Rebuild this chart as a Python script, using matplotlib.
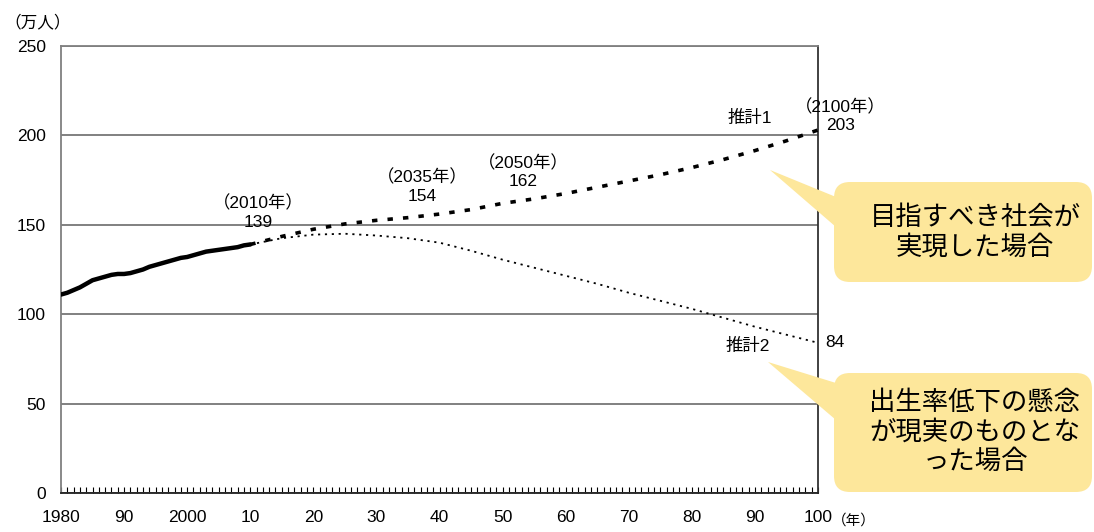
"""Population projection chart (万人), 1980-2100, two projection scenarios."""
import matplotlib
matplotlib.use("Agg")
import matplotlib.pyplot as plt
from matplotlib.patches import FancyBboxPatch, Polygon
from matplotlib.ticker import MultipleLocator, FixedLocator

plt.rcParams["font.family"] = ["Liberation Sans", "Noto Sans CJK JP", "DejaVu Sans"]

# historical series, yearly
hist_years = list(range(1980, 2011))
hist_values = [111, 112, 113.5, 115, 117, 119, 120, 121, 122, 122.5,
               122.5, 123, 124, 125, 126.5, 127.5, 128.5, 129.5, 130.5, 131.5,
               132, 133, 134, 135, 135.5, 136, 136.5, 137, 137.5, 138.5, 139]

# projections, every 5 years
proj_years = list(range(2010, 2101, 5))
proj1_values = [139, 143.5, 147.5, 150.5, 152.5, 154, 156, 158.5, 162, 164.5,
                167.5, 171, 174.5, 178, 182, 186.5, 191.5, 197, 203]
proj2_values = [139, 142.5, 144.5, 145, 144, 142.5, 140, 135.5, 130.5, 126,
                121.5, 117, 112, 107.5, 103, 98, 93, 88.5, 84]

x_ticks = [1980, 1990, 2000, 2010, 2020, 2030, 2040, 2050, 2060, 2070, 2080, 2090, 2100]
x_tick_labels = ["1980", "90", "2000", "10", "20", "30", "40", "50", "60", "70", "80", "90", "100"]
y_ticks = [0, 50, 100, 150, 200, 250]

# point labels: (year, value, text)
point_labels = [
    (2011.2, 157, "（2010年）\n139"),
    (2037.2, 171.5, "（2035年）\n154"),
    (2053.2, 179.5, "（2050年）\n162"),
    (2103.5, 211, "（2100年）\n203"),
]

FS = 12.5
W, H = 1094, 532
fig = plt.figure(figsize=(W / 100, H / 100), dpi=100)
left, right, top, bottom = 61, 818, 46, 493
ax = fig.add_axes([left / W, 1 - bottom / H, (right - left) / W, (bottom - top) / H])

ax.plot(hist_years, hist_values, color="black", lw=3.2, solid_capstyle="round", zorder=3)
ax.plot(proj_years, proj1_values, color="black", lw=2.6, linestyle=(0, (1.5, 2.8)), zorder=3)
ax.plot(proj_years, proj2_values, color="black", lw=1.3, linestyle=(0, (1.2, 2.6)), zorder=3)

ax.set_xlim(1980, 2100)
ax.set_ylim(0, 250)
ax.set_yticks(y_ticks)
ax.yaxis.grid(True, color="#808080", lw=1.4)
ax.set_axisbelow(True)
ax.tick_params(axis="y", length=0, pad=11, labelsize=FS)

ax.xaxis.set_major_locator(FixedLocator(x_ticks))
ax.set_xticklabels(x_tick_labels)
ax.xaxis.set_minor_locator(MultipleLocator(1))
ax.tick_params(axis="x", which="both", direction="in", length=4, width=0.8,
               pad=12, labelsize=FS)

for side, c in [("left", "#808080"), ("top", "#808080"), ("right", "#333333"), ("bottom", "#222222")]:
    ax.spines[side].set_color(c)
    ax.spines[side].set_linewidth(1.3)

for yr, val, txt in point_labels:
    ax.text(yr, val, txt, ha="center", va="center", fontsize=FS,
            linespacing=1.25, clip_on=False)

ax.text(2089.2, 210, "推計1", ha="center", va="center", fontsize=FS)
ax.text(2088.9, 82, "推計2", ha="center", va="center", fontsize=FS)
ax.text(2102.7, 84, "84", ha="center", va="center", fontsize=FS, clip_on=False)

ax.annotate("（年）", xy=(1, 0), xycoords="axes fraction", xytext=(14, -28),
            textcoords="offset pixels", ha="left", va="center", fontsize=10.5)
fig.text(4 / W, 1 - 22 / H, "（万人）", ha="left", va="center", fontsize=12)

# overlay in pixel coords for the callouts
ov = fig.add_axes([0, 0, 1, 1], facecolor="none")
ov.set_xlim(0, W)
ov.set_ylim(H, 0)
ov.axis("off")
yellow = "#FDE79B"

callouts = [
    ((834, 182, 1092, 282), [(770, 170), (836, 197), (836, 227)],
     "目指すべき社会が\n実現した場合", 232),
    ((834, 373, 1092, 492), [(768, 362), (836, 383), (836, 420)],
     "出生率低下の懸念\nが現実のものとな\nった場合", 432),
]
for (x0, y0, x1, y1), tri, txt, ty in callouts:
    ov.add_patch(Polygon(tri, closed=True, facecolor=yellow, edgecolor="none"))
    ov.add_patch(FancyBboxPatch((x0, y0), x1 - x0, y1 - y0,
                                boxstyle="round,pad=0,rounding_size=16",
                                facecolor=yellow, edgecolor="none"))
    ov.text((x0 + x1) / 2 + 12, ty, txt, ha="center", va="center", fontsize=19,
            linespacing=1.12, family=["Noto Sans CJK JP", "DejaVu Sans"])

fig.savefig("out.png", dpi=100)
